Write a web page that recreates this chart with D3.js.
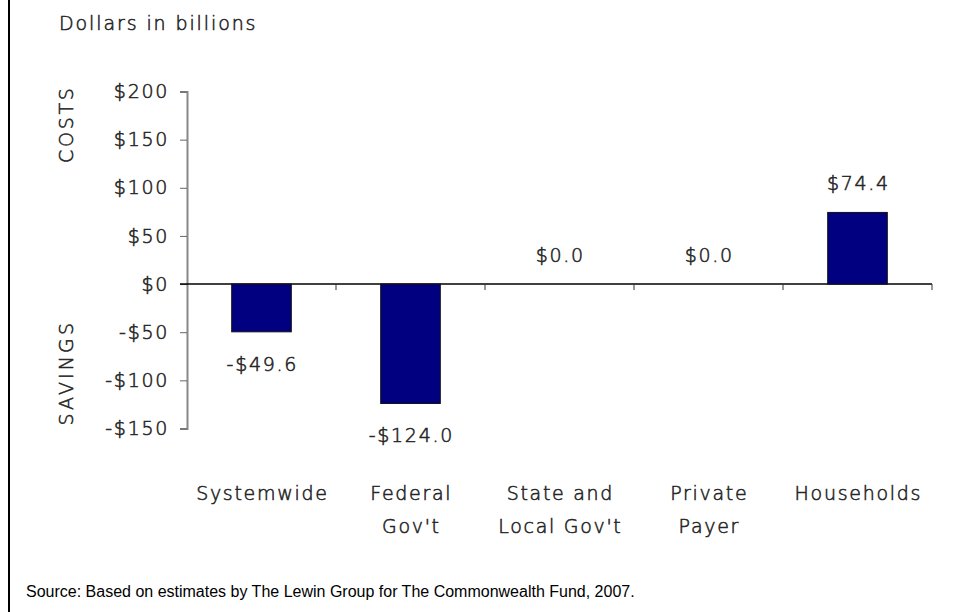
<!DOCTYPE html>
<html>
<head>
<meta charset="utf-8">
<script src="https://cdn.jsdelivr.net/npm/d3@7"></script>
<style>
  html, body { margin: 0; padding: 0; background: #fff; }
  svg text.lbl {
    font-family: "DejaVu Sans", Verdana, sans-serif; font-weight: 200;
    fill: #262626; stroke: #262626; stroke-width: 0.55px;
  }
</style>
</head>
<body>
<svg id="chart" width="960" height="612"></svg>
<script>
// Change in health spending by payer, dollars in billions
const categories = [["Systemwide"], ["Federal", "Gov't"], ["State and", "Local Gov't"], ["Private", "Payer"], ["Households"]];
const values = [-49.6, -124.0, 0.0, 0.0, 74.4];
const valueLabels = ["-$49.6", "-$124.0", "$0.0", "$0.0", "$74.4"];
const yTicks = [200, 150, 100, 50, 0, -50, -100, -150];
const yTickLabels = ["$200", "$150", "$100", "$50", "$0", "-$50", "-$100", "-$150"];

const svg = d3.select("#chart");
const margin = { left: 187, right: 28, top: 91, bottom: 183 };
const W = 960, H = 612;
const FS = 19, LS = 1.7;

const x = d3.scaleBand()
  .domain(d3.range(categories.length))
  .range([margin.left, W - margin.right])
  .paddingInner(0.6)
  .paddingOuter(0.3);

const y = d3.scaleLinear()
  .domain([-150, 200])
  .range([H - margin.bottom - 0.5, margin.top + 0.5]);

// left frame rule
svg.append("line")
  .attr("x1", 9).attr("x2", 9).attr("y1", 0).attr("y2", H)
  .attr("stroke", "#000").attr("stroke-width", 2);

// unit caption
svg.append("text").attr("class", "lbl")
  .attr("x", 59).attr("y", 30)
  .attr("font-size", FS).attr("letter-spacing", LS + 0.2)
  .text("Dollars in billions");

// y axis
const yAxis = d3.axisLeft(y)
  .tickValues(yTicks)
  .tickFormat((d, i) => yTickLabels[i])
  .tickSize(7).tickPadding(11);
const gy = svg.append("g")
  .attr("transform", `translate(${margin.left},0)`)
  .call(yAxis);
gy.select(".domain").attr("stroke", "#888").attr("stroke-width", 2);
gy.selectAll(".tick line").attr("stroke", "#666");
gy.selectAll(".tick text")
  .attr("class", "lbl")
  .attr("font-size", FS).attr("letter-spacing", LS)
  .attr("font-family", null)
  .attr("fill", null);

// side captions
svg.append("text").attr("class", "lbl")
  .attr("transform", `translate(73,${y(166)}) rotate(-90)`)
  .attr("text-anchor", "middle")
  .attr("font-size", FS).attr("letter-spacing", LS + 1)
  .text("COSTS");
svg.append("text").attr("class", "lbl")
  .attr("transform", `translate(73,${y(-92)}) rotate(-90)`)
  .attr("text-anchor", "middle")
  .attr("font-size", FS).attr("letter-spacing", LS + 1.4)
  .text("SAVINGS");

// zero line with category boundary ticks
const r = x.range();
const bounds = d3.range(categories.length + 1).map(i => r[0] + i * (r[1] - r[0]) / categories.length);
svg.append("line")
  .attr("x1", margin.left - 7).attr("x2", W - margin.right)
  .attr("y1", y(0)).attr("y2", y(0))
  .attr("stroke", "#000").attr("stroke-width", 1.5);
svg.selectAll(".xtick").data(bounds.slice(1)).join("line")
  .attr("class", "xtick")
  .attr("x1", d => d).attr("x2", d => d)
  .attr("y1", y(0)).attr("y2", y(0) + 6)
  .attr("stroke", "#333").attr("stroke-width", 1);

// bars
svg.selectAll(".bar").data(values).join("rect")
  .attr("class", "bar")
  .attr("x", (d, i) => x(i))
  .attr("width", x.bandwidth())
  .attr("y", d => y(Math.max(0, d)))
  .attr("height", d => Math.abs(y(d) - y(0)))
  .attr("fill", "#000080")
  .attr("stroke", "#111")
  .attr("stroke-width", 1);

// value labels
svg.selectAll(".val").data(values).join("text")
  .attr("class", "val lbl")
  .attr("x", (d, i) => x(i) + x.bandwidth() / 2 + LS / 2)
  .attr("y", d => d < 0 ? y(d) + 39 : y(d) - 22)
  .attr("text-anchor", "middle")
  .attr("font-size", FS).attr("letter-spacing", LS)
  .text((d, i) => valueLabels[i]);

// category labels
const cat = svg.selectAll(".cat").data(categories).join("text")
  .attr("class", "cat lbl")
  .attr("text-anchor", "middle")
  .attr("font-size", FS).attr("letter-spacing", LS);
cat.selectAll("tspan").data((d, i) => d.map(s => ({ s, i }))).join("tspan")
  .attr("x", d => x(d.i) + x.bandwidth() / 2 + LS / 2)
  .attr("y", (d, j) => 500 + j * 33)
  .text(d => d.s);

// source note
svg.append("text")
  .attr("x", 26).attr("y", 597)
  .style("font-family", "'Liberation Sans', Arial, sans-serif")
  .attr("font-size", 16).attr("fill", "#000")
  .text("Source: Based on estimates by The Lewin Group for The Commonwealth Fund, 2007.");
</script>
</body>
</html>
